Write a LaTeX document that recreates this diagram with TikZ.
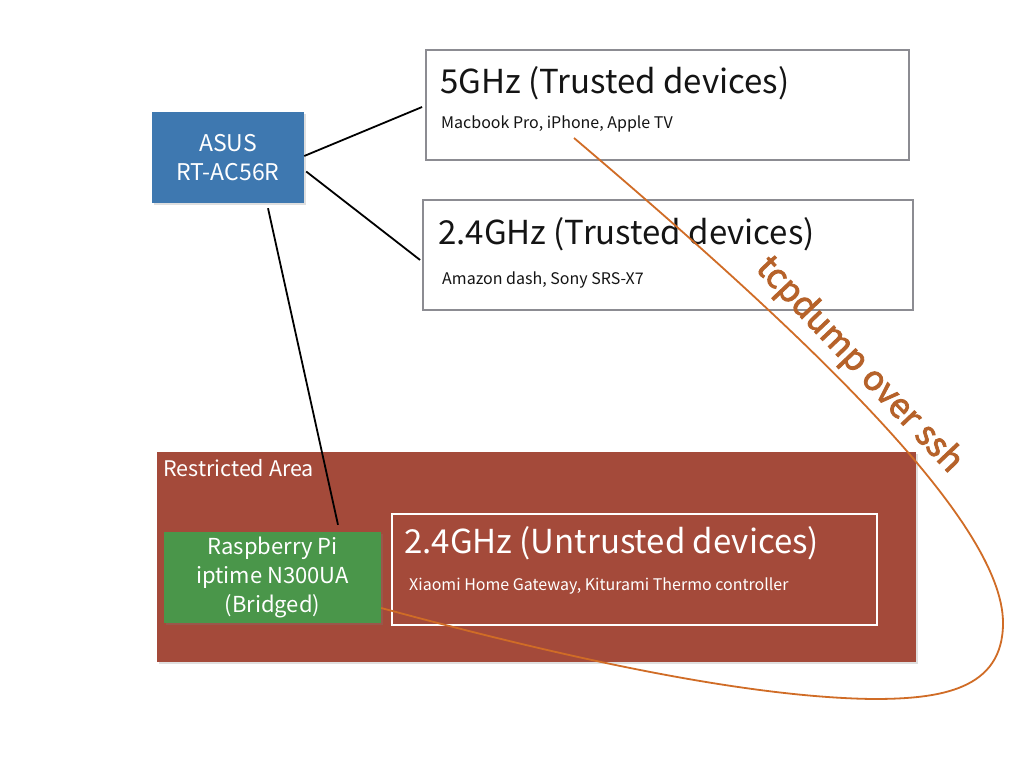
\documentclass[tikz,border=0pt]{standalone}
\usepackage{fontspec}
\setmainfont{Noto Sans CJK KR}
\newfontfamily\sshfont[FakeBold=2.5]{Noto Sans CJK KR}
\usetikzlibrary{shadows,calc}
\definecolor{asusblue}{RGB}{62,120,176}
\definecolor{restrictred}{RGB}{164,74,58}
\definecolor{pigreen}{RGB}{74,150,74}
\definecolor{boxgray}{RGB}{140,140,146}
\definecolor{curveorange}{RGB}{208,108,38}
\definecolor{labelorange}{RGB}{182,98,42}
\definecolor{titleblack}{RGB}{20,20,20}
\begin{document}
\begin{tikzpicture}[x=1pt,y=-1pt,
  shade/.style={drop shadow={opacity=0.25,shadow xshift=1.5pt,shadow yshift=-1.5pt}},
  filledbox/.style={rectangle,inner sep=0pt,shade,text=white,align=center,font=\fontsize{22}{29}\selectfont},
  trustbox/.style={rectangle,draw=boxgray,line width=1.8pt,fill=white,inner sep=0pt},
  title/.style={anchor=base west,inner sep=0pt,font=\fontsize{33}{40}\selectfont},
  subtitle/.style={anchor=base west,inner sep=0pt,font=\fontsize{16}{20}\selectfont},
  wire/.style={draw=black,line width=1.8pt},
  sshcurve/.style={draw=curveorange,line width=1.8pt}]
\useasboundingbox (0,0) rectangle (1024,768);
\fill[white] (0,0) rectangle (1024,768);
% restricted area
\node[rectangle,inner sep=0pt,fill=restrictred,shade,minimum width=759pt,minimum height=210pt] (ra) at (536.5,557) {};
\node[anchor=base west,inner sep=0pt,text=white,font=\fontsize{21.5}{24}\selectfont] (ralabel) at (163,476) {Restricted Area};
% trusted boxes
\node[trustbox,minimum width=483pt,minimum height=110pt] (g5) at (667.5,105) {};
\node[title,text=titleblack] (g5t) at (440,93) {5GHz (Trusted devices)};
\node[subtitle,text=titleblack] (g5s) at (441,128) {Macbook Pro, iPhone, Apple TV};
\node[trustbox,minimum width=490pt,minimum height=110pt] (g24) at (668,255) {};
\node[title,text=titleblack] (g24t) at (438,244) {2.4GHz (Trusted devices)};
\node[subtitle,text=titleblack] (g24s) at (442,284) {Amazon dash, Sony SRS-X7};
% untrusted box
\node[rectangle,draw=white,line width=1.8pt,inner sep=0pt,minimum width=485pt,minimum height=111pt] (ut) at (634.5,569.5) {};
\node[title,text=white] (utt) at (404,553) {2.4GHz (Untrusted devices)};
\node[subtitle,text=white] (uts) at (409,590) {Xiaomi Home Gateway, Kiturami Thermo controller};
% ASUS and Pi
\node[filledbox,fill=asusblue,minimum width=152pt,minimum height=91pt,font=\fontsize{23}{29}\selectfont] (asus) at (228,157.5) {ASUS\\RT-AC56R};
\node[filledbox,fill=pigreen,minimum width=217pt,minimum height=91pt] (pi) at (272.5,577.5) {Raspberry Pi\\iptime N300UA\\(Bridged)};
% wires
\draw[wire] ([yshift=1.5pt]asus.east) -- ([yshift=-2pt,xshift=-3pt]g5.west);
\draw[wire] ([yshift=-14pt,xshift=2pt]asus.east) -- ([yshift=-5pt,xshift=-2pt]g24.west);
\draw[wire] ([xshift=40pt,yshift=-5pt]asus.south) -- ([xshift=65.5pt,yshift=7pt]pi.north);
% tcpdump curve
\coordinate (cs) at (574,138);
\draw[sshcurve] (cs) .. controls (800,330) and (1003,520) .. (1003,623)
  .. controls (1003,690) and (940,699) .. (873,699)
  .. controls (720,697) and (500,640) .. ([yshift=-30.5pt]pi.east);
\node[rotate=-46.5,text=labelorange,inner sep=0pt,font=\sshfont\fontsize{34}{36}\selectfont] (ssh) at (859,365) {tcpdump over ssh};
\end{tikzpicture}
\end{document}
